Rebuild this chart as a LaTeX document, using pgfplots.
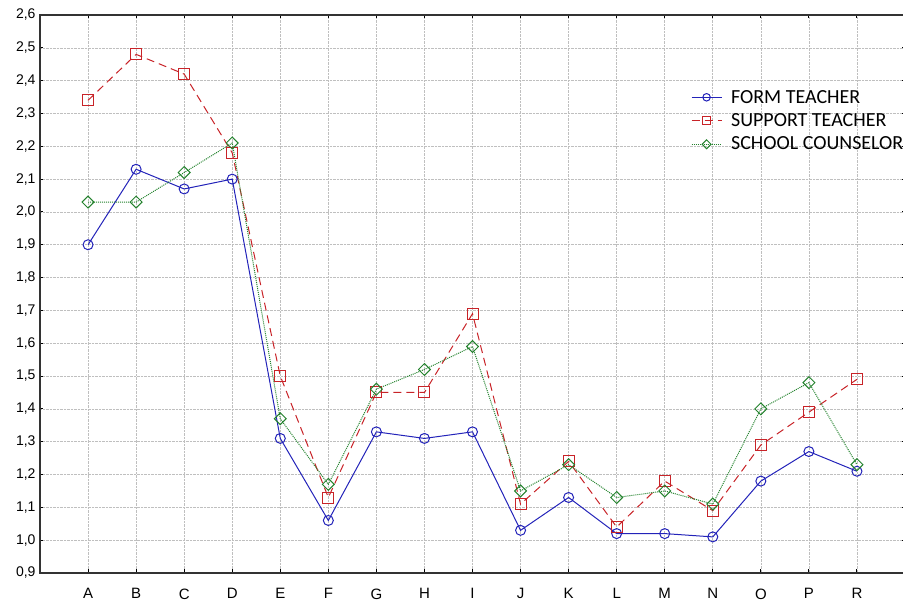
\documentclass[border=0pt]{standalone}
\usepackage{pgfplots}
\pgfplotsset{compat=1.18}
\usepackage{fontspec}
\setmainfont{Liberation Sans}
\newfontfamily\carlito{Carlito}
\definecolor{fblue}{RGB}{35,35,185}
\definecolor{sred}{RGB}{200,35,40}
\definecolor{cgreen}{RGB}{35,130,45}

\pgfplotstableread{
x form support counsel
0  1.90 2.34 2.03
1  2.13 2.48 2.03
2  2.07 2.42 2.12
3  2.10 2.18 2.21
4  1.31 1.50 1.37
5  1.06 1.13 1.17
6  1.33 1.45 1.46
7  1.31 1.45 1.52
8  1.33 1.69 1.59
9  1.03 1.11 1.15
10 1.13 1.24 1.23
11 1.02 1.04 1.13
12 1.02 1.18 1.15
13 1.01 1.09 1.11
14 1.18 1.29 1.40
15 1.27 1.39 1.48
16 1.21 1.49 1.23
}\datatable

\begin{document}
\begin{tikzpicture}
\begin{axis}[
  scale only axis, width=865pt, height=558pt,
  xmin=-1, xmax=17, ymin=0.9, ymax=2.6,
  xtick={0,...,16},
  xticklabels={A,B,C,D,E,F,G,H,I,J,K,L,M,N,O,P,R},
  ytick={0.9,1.0,1.1,1.2,1.3,1.4,1.5,1.6,1.7,1.8,1.9,2.0,2.1,2.2,2.3,2.4,2.5,2.6},
  /pgf/number format/.cd, use comma, fixed, fixed zerofill, precision=1, assume math mode=true,
  /pgfplots/.cd,
  grid=major,
  major grid style={densely dotted, black!25, line width=0.6pt},
  axis line style={line width=1.3pt, black!80},
  tick style={black, line width=1pt},
  major tick length=3.5pt,
  tick align=inside,
  yticklabel style={font=\fontsize{14}{16}\selectfont, xshift=-1pt},
  xticklabel style={font=\fontsize{15}{17}\selectfont, yshift=-12pt},
  legend style={at={(0.749,0.873)}, anchor=north west, draw=none, fill=none,
    font=\carlito\fontsize{20}{22}\selectfont, row sep=5pt},
  legend cell align=left,
  legend image code/.code={\draw[mark repeat=2,mark phase=2,#1,every mark/.append style={scale=0.75}] plot coordinates {(0pt,0pt)(15pt,0pt)(30pt,0pt)}; \path (37pt,0pt);},
]
\addplot[fblue, line width=1pt, mark=o, mark size=5pt, mark options={solid, fill=white, line width=1pt}] table[x=x, y=form] {\datatable};
\addlegendentry{FORM TEACHER}
\addplot[sred, line width=1pt, dash pattern=on 8pt off 5pt, mark=square, mark size=5.5pt, mark options={solid, fill=white, line width=1pt}] table[x=x, y=support] {\datatable};
\addlegendentry{SUPPORT TEACHER}
\addplot[cgreen, line width=1pt, densely dotted, mark=square, mark size=4.2pt, mark options={solid, rotate=45, fill=white, line width=1pt}] table[x=x, y=counsel] {\datatable};
\addlegendentry{SCHOOL COUNSELOR}
\end{axis}
\pgfresetboundingbox
\path[use as bounding box] ([xshift=-40pt, yshift=-28pt]current axis.south west) rectangle ([xshift=-2pt, yshift=15pt]current axis.north east);
\end{tikzpicture}
\end{document}
